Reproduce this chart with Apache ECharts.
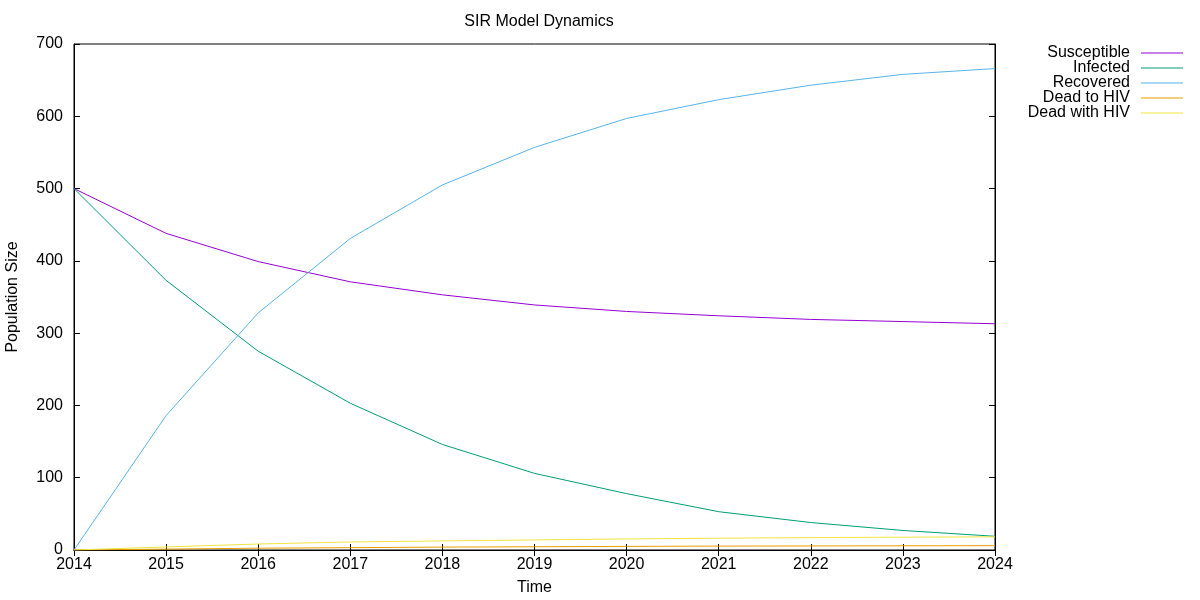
<!DOCTYPE html>
<html>
<head>
<meta charset="utf-8">
<script src="https://cdn.jsdelivr.net/npm/echarts@6/dist/echarts.min.js"></script>
<style>html,body{margin:0;padding:0;background:#fff}#c{width:1200px;height:600px}</style>
</head>
<body>
<div id="c"></div>
<script>
const years = [2014, 2015, 2016, 2017, 2018, 2019, 2020, 2021, 2022, 2023, 2024];
const susceptible = [500, 438, 399, 371, 353, 339, 330, 324, 319, 316, 313];
const infected = [500, 373, 275, 203, 146, 106, 78, 53, 38, 27, 19];
const recovered = [0, 186, 328, 431, 505, 557, 597, 623, 643, 658, 666];
const deadToHIV = [0, 1.2, 2.5, 3.2, 4.0, 4.5, 5.0, 5.4, 5.6, 5.8, 6.0];
const deadWithHIV = [0, 4.2, 8.3, 11.1, 12.6, 13.9, 15.3, 16.3, 17.1, 17.8, 18.2];
const seriesNames = ['Susceptible', 'Infected', 'Recovered', 'Dead to HIV', 'Dead with HIV'];
const seriesData = [susceptible, infected, recovered, deadToHIV, deadWithHIV];
const colors = ['#9400d3', '#009e73', '#56b4e9', '#e69f00', '#f0e442'];

const font = 'Liberation Sans, Arial, sans-serif';
const chart = echarts.init(document.getElementById('c'));

const legends = seriesNames.map((n, i) => ({
  data: [n],
  orient: 'vertical',
  right: 17,
  top: 45 + i * 15,
  align: 'right',
  icon: 'rect',
  itemWidth: 42,
  itemHeight: 1,
  padding: 0,
  selectedMode: false,
  textStyle: { fontFamily: font, fontSize: 16, color: '#000', padding: [0, 6, 0, 0] }
}));

const axisCommon = {
  type: 'value',
  axisLine: { show: true, lineStyle: { color: '#000', width: 1 } },
  axisTick: { show: true, inside: true, length: 6, lineStyle: { color: '#000' } },
  splitLine: { show: false }
};

chart.setOption({
  animation: false,
  color: colors,
  title: {
    text: 'SIR Model Dynamics',
    left: 534, top: 9, textAlign: 'center',
    textStyle: { fontFamily: font, fontSize: 16, fontWeight: 'normal', color: '#000' }
  },
  legend: legends,
  grid: { left: 74, right: 205, top: 44, bottom: 50, show: true, borderColor: '#000', borderWidth: 1,
          containLabel: false, outerBoundsMode: 'none' },
  xAxis: [
    Object.assign({}, axisCommon, {
      min: 2014, max: 2024, interval: 1,
      name: 'Time', nameLocation: 'middle', nameGap: 30,
      nameTextStyle: { fontFamily: font, fontSize: 16, color: '#000' },
      axisLabel: { fontFamily: font, fontSize: 16, color: '#000', margin: 7, formatter: v => String(v) }
    }),
    Object.assign({}, axisCommon, {
      position: 'top', min: 2014, max: 2024, interval: 1,
      axisLabel: { show: false }
    })
  ],
  yAxis: [
    Object.assign({}, axisCommon, {
      min: 0, max: 700, interval: 100,
      name: 'Population Size', nameLocation: 'middle', nameGap: 53,
      nameTextStyle: { fontFamily: font, fontSize: 16, color: '#000' },
      axisLabel: { fontFamily: font, fontSize: 16, color: '#000', margin: 11 }
    }),
    Object.assign({}, axisCommon, {
      position: 'right', min: 0, max: 700, interval: 100,
      axisLabel: { show: false }
    })
  ],
  series: seriesNames.map((n, i) => ({
    name: n,
    type: 'line',
    symbol: 'none',
    xAxisIndex: 0, yAxisIndex: 0,
    lineStyle: { width: 1, color: colors[i] },
    itemStyle: { color: colors[i] },
    data: years.map((y, j) => [y, seriesData[i][j]])
  }))
});
</script>
</body>
</html>
